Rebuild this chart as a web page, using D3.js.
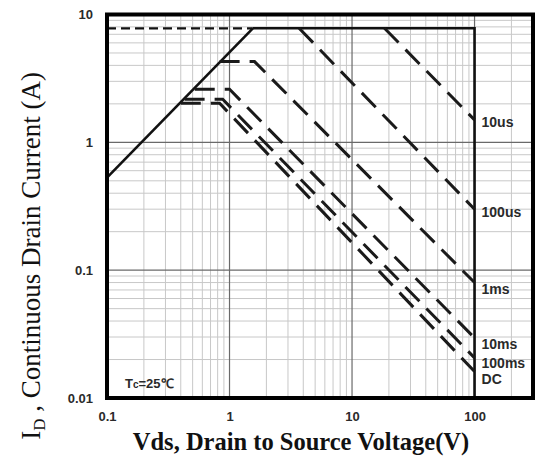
<!DOCTYPE html>
<html>
<head>
<meta charset="utf-8">
<script src="https://cdn.jsdelivr.net/npm/d3@7"></script>
<style>
  html, body { margin: 0; padding: 0; background: #fff; }
  svg { display: block; }
</style>
</head>
<body>
<svg id="chart" width="539" height="460"></svg>
<script>
// Safe operating area of the MOSFET, Tc = 25 °C (log-log)
const xTicks = [0.1, 1, 10, 100];
const yTicks = [0.01, 0.1, 1, 10];
const xTickLabels = ["0.1", "1", "10", "100"];
const yTickLabels = ["0.01", "0.1", "1", "10"];

// Boundary: Rds(on) limit, continuous Id limit and the Vds(max) wall
const rdsLimit = [[0.1, 0.53], [1.55, 7.8]];
const idLimit = [[1.55, 7.8], [100, 7.8], [100, 0.01]];
const idmLimit = [[0.1, 7.8], [1.55, 7.8]];

// Pulse-width limits: [Vds, Id] points
const pulseNames = ["10us", "100us", "1ms", "10ms", "100ms", "DC"];
const curve10us = [[18.4, 7.8], [100, 1.5]];
const curve100us = [[3.7, 7.8], [100, 0.30]];
const curve1ms = [[0.83, 4.28], [1.6, 4.28], [100, 0.080]];
const curve10ms = [[0.52, 2.6], [1.0, 2.6], [100, 0.0295]];
const curve100ms = [[0.43, 2.17], [0.88, 2.17], [100, 0.0206]];
const curveDC = [[0.40, 2.02], [0.83, 2.02], [100, 0.0161]];
const pulseCurves = [curve10us, curve100us, curve1ms, curve10ms, curve100ms, curveDC];

const svg = d3.select("#chart");
const plotL = 107, plotR = 533, plotT = 14.5, plotB = 398;

const x = d3.scaleLog().domain([0.1, 300]).range([plotL, plotR]);
const y = d3.scaleLog().domain([0.01, 10]).range([plotB, plotT]);

// grid: minor lines at 2..9 of each decade, majors at the decades
const minorX = [], minorY = [];
for (let e = -1; e <= 2; e++) for (let m = 2; m <= 9; m++) {
  const v = m * Math.pow(10, e);
  if (v < 300) minorX.push(v);
}
for (let e = -2; e <= 0; e++) for (let m = 2; m <= 9; m++) minorY.push(m * Math.pow(10, e));

const grid = svg.append("g");
grid.selectAll(".mx").data(minorX).join("line")
  .attr("x1", d => x(d)).attr("x2", d => x(d)).attr("y1", plotT).attr("y2", plotB)
  .attr("stroke", "#c8c8c8").attr("stroke-width", 1);
grid.selectAll(".my").data(minorY).join("line")
  .attr("y1", d => y(d)).attr("y2", d => y(d)).attr("x1", plotL).attr("x2", plotR)
  .attr("stroke", "#c8c8c8").attr("stroke-width", 1);
grid.selectAll(".Mx").data(xTicks.slice(1)).join("line")
  .attr("x1", d => x(d)).attr("x2", d => x(d)).attr("y1", plotT).attr("y2", plotB)
  .attr("stroke", "#6a6a6a").attr("stroke-width", 1.2);
grid.selectAll(".My").data(yTicks.slice(1, 3)).join("line")
  .attr("y1", d => y(d)).attr("y2", d => y(d)).attr("x1", plotL).attr("x2", plotR)
  .attr("stroke", "#6a6a6a").attr("stroke-width", 1.2);

const line = d3.line().x(d => x(d[0])).y(d => y(d[1]));

// boundary lines
svg.append("path").attr("d", line(rdsLimit)).attr("fill", "none")
  .attr("stroke", "#111").attr("stroke-width", 2.6);
svg.append("path").attr("d", line(idLimit)).attr("fill", "none")
  .attr("stroke", "#111").attr("stroke-width", 2.6);
svg.append("path").attr("d", line(idmLimit)).attr("fill", "none")
  .attr("stroke", "#111").attr("stroke-width", 2.2).attr("stroke-dasharray", "9,5");

// pulse curves
svg.selectAll(".pulse").data(pulseCurves).join("path")
  .attr("d", line).attr("fill", "none")
  .attr("stroke", "#1a1a1a").attr("stroke-width", 3)
  .attr("stroke-dasharray", "20,10");

// labels at the right end of each curve
const labelNudge = [3, 4, 8, 7, 6, 9];
svg.selectAll(".plabel").data(pulseNames).join("text")
  .attr("x", x(100) + 7)
  .attr("y", (d, i) => y(pulseCurves[i][pulseCurves[i].length - 1][1]) + labelNudge[i])
  .attr("dominant-baseline", "middle")
  .attr("font-family", "Liberation Sans, Arial, sans-serif")
  .attr("font-size", 14).attr("font-weight", "bold").attr("fill", "#2a2a2a")
  .text(d => d);

// frame
svg.append("rect").attr("x", plotL).attr("y", plotT).attr("width", plotR - plotL).attr("height", plotB - plotT)
  .attr("fill", "none").attr("stroke", "#000").attr("stroke-width", 4);

// axes (labels only)
const xAxis = d3.axisBottom(x).tickValues(xTicks).tickSize(0).tickPadding(14)
  .tickFormat((d, i) => xTickLabels[i]);
const gx = svg.append("g").attr("transform", `translate(0,${plotB})`).call(xAxis);
gx.select(".domain").remove();
gx.selectAll("text").attr("font-family", "Liberation Sans, Arial, sans-serif")
  .attr("font-size", 13).attr("font-weight", "bold").attr("fill", "#2a2a2a");

const yAxis = d3.axisLeft(y).tickValues(yTicks).tickSize(0).tickPadding(14)
  .tickFormat((d, i) => yTickLabels[i]);
const gy = svg.append("g").attr("transform", `translate(${plotL},0)`).call(yAxis);
gy.select(".domain").remove();
gy.selectAll("text").attr("font-family", "Liberation Sans, Arial, sans-serif")
  .attr("font-size", 13).attr("font-weight", "bold").attr("fill", "#2a2a2a");

// temperature note
const note = svg.append("text").attr("x", 125).attr("y", 388)
  .attr("font-family", "Liberation Sans, Arial, sans-serif")
  .attr("font-size", 13).attr("font-weight", "bold").attr("fill", "#2a2a2a");
note.append("tspan").text("T");
note.append("tspan").attr("font-size", 10).text("c");
note.append("tspan").text("=25℃");

// axis titles
svg.append("text").attr("x", 301).attr("y", 450).attr("text-anchor", "middle")
  .attr("font-family", "Liberation Serif, Times New Roman, serif")
  .attr("font-size", 24.5).attr("font-weight", "bold").attr("fill", "#111")
  .text("Vds, Drain to Source Voltage(V)");

const yt = svg.append("text").attr("transform", "translate(40,256) rotate(-90)")
  .attr("text-anchor", "middle")
  .attr("font-family", "Liberation Serif, Times New Roman, serif")
  .attr("font-size", 27).attr("fill", "#111");
yt.append("tspan").text("I");
yt.append("tspan").attr("font-size", 17).attr("dy", 5).text("D");
yt.append("tspan").attr("dy", -5).text(" , Continuous Drain Current (A)");
</script>
</body>
</html>
